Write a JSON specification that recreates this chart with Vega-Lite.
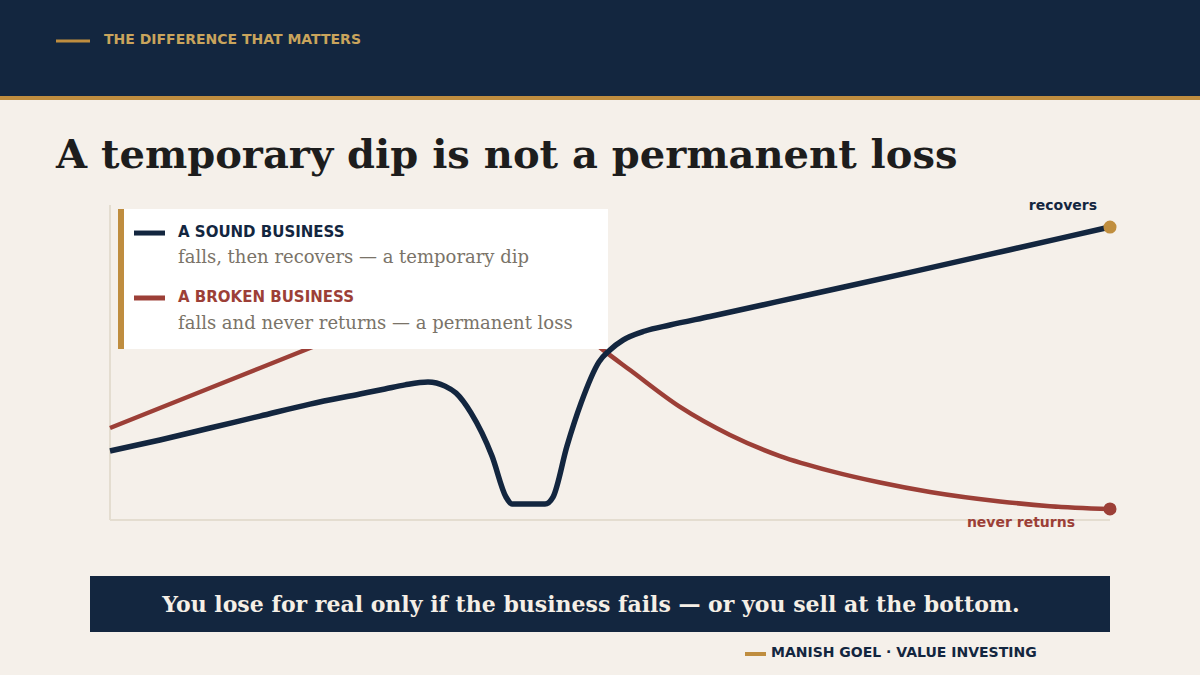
{
  "$schema": "https://vega.github.io/schema/vega-lite/v6.json",
  "width": 1200,
  "height": 675,
  "autosize": {"type": "fit", "contains": "padding"},
  "padding": 0,
  "background": "#f5f0ea",
  "config": {"view": {"stroke": null}, "axis": {"disable": true}},
  "data": {
    "values": [
      {"series": "sound", "t": 0, "v": 21.9},
      {"series": "sound", "t": 5, "v": 25.4},
      {"series": "sound", "t": 10, "v": 29.2},
      {"series": "sound", "t": 15, "v": 33.0},
      {"series": "sound", "t": 20, "v": 36.8},
      {"series": "sound", "t": 25, "v": 40.0},
      {"series": "sound", "t": 27.5, "v": 41.6},
      {"series": "sound", "t": 29.5, "v": 42.9},
      {"series": "sound", "t": 31.8, "v": 43.8},
      {"series": "sound", "t": 33.5, "v": 42.5},
      {"series": "sound", "t": 34.6, "v": 40.3},
      {"series": "sound", "t": 36.1, "v": 34.0},
      {"series": "sound", "t": 38.2, "v": 20.3},
      {"series": "sound", "t": 39.6, "v": 7.3},
      {"series": "sound", "t": 40.2, "v": 5.1},
      {"series": "sound", "t": 43.5, "v": 5.1},
      {"series": "sound", "t": 44.3, "v": 7.3},
      {"series": "sound", "t": 45.7, "v": 23.5},
      {"series": "sound", "t": 47.1, "v": 37.1},
      {"series": "sound", "t": 48.9, "v": 50.2},
      {"series": "sound", "t": 50, "v": 54.0},
      {"series": "sound", "t": 51.3, "v": 57.1},
      {"series": "sound", "t": 53.5, "v": 60.0},
      {"series": "sound", "t": 56, "v": 61.9},
      {"series": "sound", "t": 60, "v": 64.6},
      {"series": "sound", "t": 70, "v": 71.6},
      {"series": "sound", "t": 80, "v": 78.6},
      {"series": "sound", "t": 90, "v": 85.8},
      {"series": "sound", "t": 100, "v": 93.0},
      {"series": "broken", "t": 0, "v": 29.2},
      {"series": "broken", "t": 10, "v": 41.9},
      {"series": "broken", "t": 20, "v": 54.6},
      {"series": "broken", "t": 30, "v": 67.3},
      {"series": "broken", "t": 38, "v": 77.5},
      {"series": "broken", "t": 40.5, "v": 80.0},
      {"series": "broken", "t": 42.5, "v": 77.0},
      {"series": "broken", "t": 45, "v": 66.5},
      {"series": "broken", "t": 47.5, "v": 58.5},
      {"series": "broken", "t": 49.3, "v": 54.0},
      {"series": "broken", "t": 52, "v": 47.6},
      {"series": "broken", "t": 57, "v": 35.9},
      {"series": "broken", "t": 62, "v": 27.0},
      {"series": "broken", "t": 67, "v": 20.3},
      {"series": "broken", "t": 72, "v": 15.6},
      {"series": "broken", "t": 77, "v": 11.9},
      {"series": "broken", "t": 82, "v": 8.9},
      {"series": "broken", "t": 89, "v": 5.9},
      {"series": "broken", "t": 94, "v": 4.4},
      {"series": "broken", "t": 100, "v": 3.5}
    ]
  },
  "layer": [
    {
      "data": {"values": [{}]},
      "mark": {"type": "rect", "color": "#13263f"},
      "encoding": {
        "x": {"datum": -11, "type": "quantitative", "axis": null, "scale": {"domain": [-11, 109], "nice": false, "zero": false}},
        "x2": {"datum": 109},
        "y": {"datum": 165.079, "type": "quantitative", "axis": null, "scale": {"domain": [-49.206, 165.079], "nice": false, "zero": false}},
        "y2": {"datum": 134.603}
      }
    },
    {
      "data": {"values": [{}]},
      "mark": {"type": "rect", "color": "#bf8d3f"},
      "encoding": {
        "x": {"datum": -11}, "x2": {"datum": 109},
        "y": {"datum": 134.603}, "y2": {"datum": 133.333}
      }
    },
    {
      "data": {"values": [{}]},
      "mark": {"type": "rule", "color": "#bf8d3f", "strokeWidth": 3, "strokeCap": "butt"},
      "encoding": {"x": {"datum": -5.4}, "x2": {"datum": -2.0}, "y": {"datum": 152.06}}
    },
    {
      "data": {"values": [{}]},
      "mark": {"type": "text", "text": "THE DIFFERENCE THAT MATTERS", "align": "left", "baseline": "middle", "font": "DejaVu Sans", "fontWeight": "bold", "fontSize": 14, "color": "#c9a45c"},
      "encoding": {"x": {"datum": -0.6}, "y": {"datum": 152.38}}
    },
    {
      "data": {"values": [{}]},
      "mark": {"type": "text", "text": "A temporary dip is not a permanent loss", "align": "left", "baseline": "alphabetic", "font": "DejaVu Serif", "fontWeight": "bold", "fontSize": 40, "color": "#1d1d1d"},
      "encoding": {"x": {"datum": -5.4}, "y": {"datum": 111.75}}
    },
    {
      "data": {"values": [{}]},
      "mark": {"type": "rule", "color": "#e4ddd0", "strokeWidth": 2},
      "encoding": {"x": {"datum": 0}, "y": {"datum": 0}, "y2": {"datum": 100}}
    },
    {
      "data": {"values": [{}]},
      "mark": {"type": "rule", "color": "#e4ddd0", "strokeWidth": 2},
      "encoding": {"x": {"datum": 0}, "x2": {"datum": 100}, "y": {"datum": 0}}
    },
    {
      "transform": [{"filter": "datum.series === 'broken'"}],
      "mark": {"type": "line", "color": "#9c3f37", "strokeWidth": 4.5, "interpolate": "monotone"},
      "encoding": {
        "x": {"field": "t", "type": "quantitative"},
        "y": {"field": "v", "type": "quantitative"}
      }
    },
    {
      "data": {"values": [{}]},
      "mark": {"type": "rect", "color": "#ffffff"},
      "encoding": {"x": {"datum": 0.8}, "x2": {"datum": 49.8}, "y": {"datum": 98.73}, "y2": {"datum": 54.29}}
    },
    {
      "data": {"values": [{}]},
      "mark": {"type": "rect", "color": "#bf8d3f"},
      "encoding": {"x": {"datum": 0.8}, "x2": {"datum": 1.4}, "y": {"datum": 98.73}, "y2": {"datum": 54.29}}
    },
    {
      "data": {"values": [{}]},
      "mark": {"type": "rule", "color": "#13263f", "strokeWidth": 5, "strokeCap": "butt"},
      "encoding": {"x": {"datum": 2.4}, "x2": {"datum": 5.5}, "y": {"datum": 91.1}}
    },
    {
      "data": {"values": [{}]},
      "mark": {"type": "rule", "color": "#9c3f37", "strokeWidth": 5, "strokeCap": "butt"},
      "encoding": {"x": {"datum": 2.4}, "x2": {"datum": 5.5}, "y": {"datum": 70.48}}
    },
    {
      "data": {"values": [{}]},
      "mark": {"type": "text", "text": "A SOUND BUSINESS", "align": "left", "baseline": "middle", "font": "DejaVu Sans", "fontWeight": "bold", "fontSize": 15, "color": "#13263f"},
      "encoding": {"x": {"datum": 6.8}, "y": {"datum": 91.43}}
    },
    {
      "data": {"values": [{}]},
      "mark": {"type": "text", "text": "falls, then recovers — a temporary dip", "align": "left", "baseline": "middle", "font": "DejaVu Serif", "fontSize": 18, "color": "#7a7368"},
      "encoding": {"x": {"datum": 6.8}, "y": {"datum": 83.17}}
    },
    {
      "data": {"values": [{}]},
      "mark": {"type": "text", "text": "A BROKEN BUSINESS", "align": "left", "baseline": "middle", "font": "DejaVu Sans", "fontWeight": "bold", "fontSize": 15, "color": "#9c3f37"},
      "encoding": {"x": {"datum": 6.8}, "y": {"datum": 70.79}}
    },
    {
      "data": {"values": [{}]},
      "mark": {"type": "text", "text": "falls and never returns — a permanent loss", "align": "left", "baseline": "middle", "font": "DejaVu Serif", "fontSize": 18, "color": "#7a7368"},
      "encoding": {"x": {"datum": 6.8}, "y": {"datum": 62.22}}
    },
    {
      "transform": [{"filter": "datum.series === 'sound'"}],
      "mark": {"type": "line", "color": "#13263f", "strokeWidth": 5.5, "interpolate": "monotone", "strokeJoin": "round"},
      "encoding": {
        "x": {"field": "t", "type": "quantitative"},
        "y": {"field": "v", "type": "quantitative"}
      }
    },
    {
      "transform": [{"filter": "datum.series === 'sound' && datum.t === 100"}],
      "mark": {"type": "circle", "color": "#c08e3e", "size": 170, "opacity": 1},
      "encoding": {"x": {"field": "t", "type": "quantitative"}, "y": {"field": "v", "type": "quantitative"}}
    },
    {
      "transform": [{"filter": "datum.series === 'broken' && datum.t === 100"}],
      "mark": {"type": "circle", "color": "#9c3f37", "size": 170, "opacity": 1},
      "encoding": {"x": {"field": "t", "type": "quantitative"}, "y": {"field": "v", "type": "quantitative"}}
    },
    {
      "data": {"values": [{}]},
      "mark": {"type": "text", "text": "recovers", "align": "right", "baseline": "middle", "font": "DejaVu Sans", "fontWeight": "bold", "fontSize": 14, "color": "#13263f"},
      "encoding": {"x": {"datum": 98.7}, "y": {"datum": 99.68}}
    },
    {
      "data": {"values": [{}]},
      "mark": {"type": "text", "text": "never returns", "align": "right", "baseline": "middle", "font": "DejaVu Sans", "fontWeight": "bold", "fontSize": 14, "color": "#9c3f37"},
      "encoding": {"x": {"datum": 96.5}, "y": {"datum": -0.95}}
    },
    {
      "data": {"values": [{}]},
      "mark": {"type": "rect", "color": "#13263f"},
      "encoding": {"x": {"datum": -2}, "x2": {"datum": 100}, "y": {"datum": -17.78}, "y2": {"datum": -35.56}}
    },
    {
      "data": {"values": [{}]},
      "mark": {"type": "text", "text": "You lose for real only if the business fails — or you sell at the bottom.", "align": "center", "baseline": "middle", "font": "DejaVu Serif", "fontWeight": "bold", "fontSize": 22, "color": "#f5efe6"},
      "encoding": {"x": {"datum": 48.1}, "y": {"datum": -26.98}}
    },
    {
      "data": {"values": [{}]},
      "mark": {"type": "rule", "color": "#bf8d3f", "strokeWidth": 4, "strokeCap": "butt"},
      "encoding": {"x": {"datum": 63.5}, "x2": {"datum": 65.6}, "y": {"datum": -42.54}}
    },
    {
      "data": {"values": [{}]},
      "mark": {"type": "text", "text": "MANISH GOEL  ·  VALUE INVESTING", "align": "left", "baseline": "middle", "font": "DejaVu Sans", "fontWeight": "bold", "fontSize": 14, "color": "#13263f"},
      "encoding": {"x": {"datum": 66.1}, "y": {"datum": -42.22}}
    }
  ]
}
